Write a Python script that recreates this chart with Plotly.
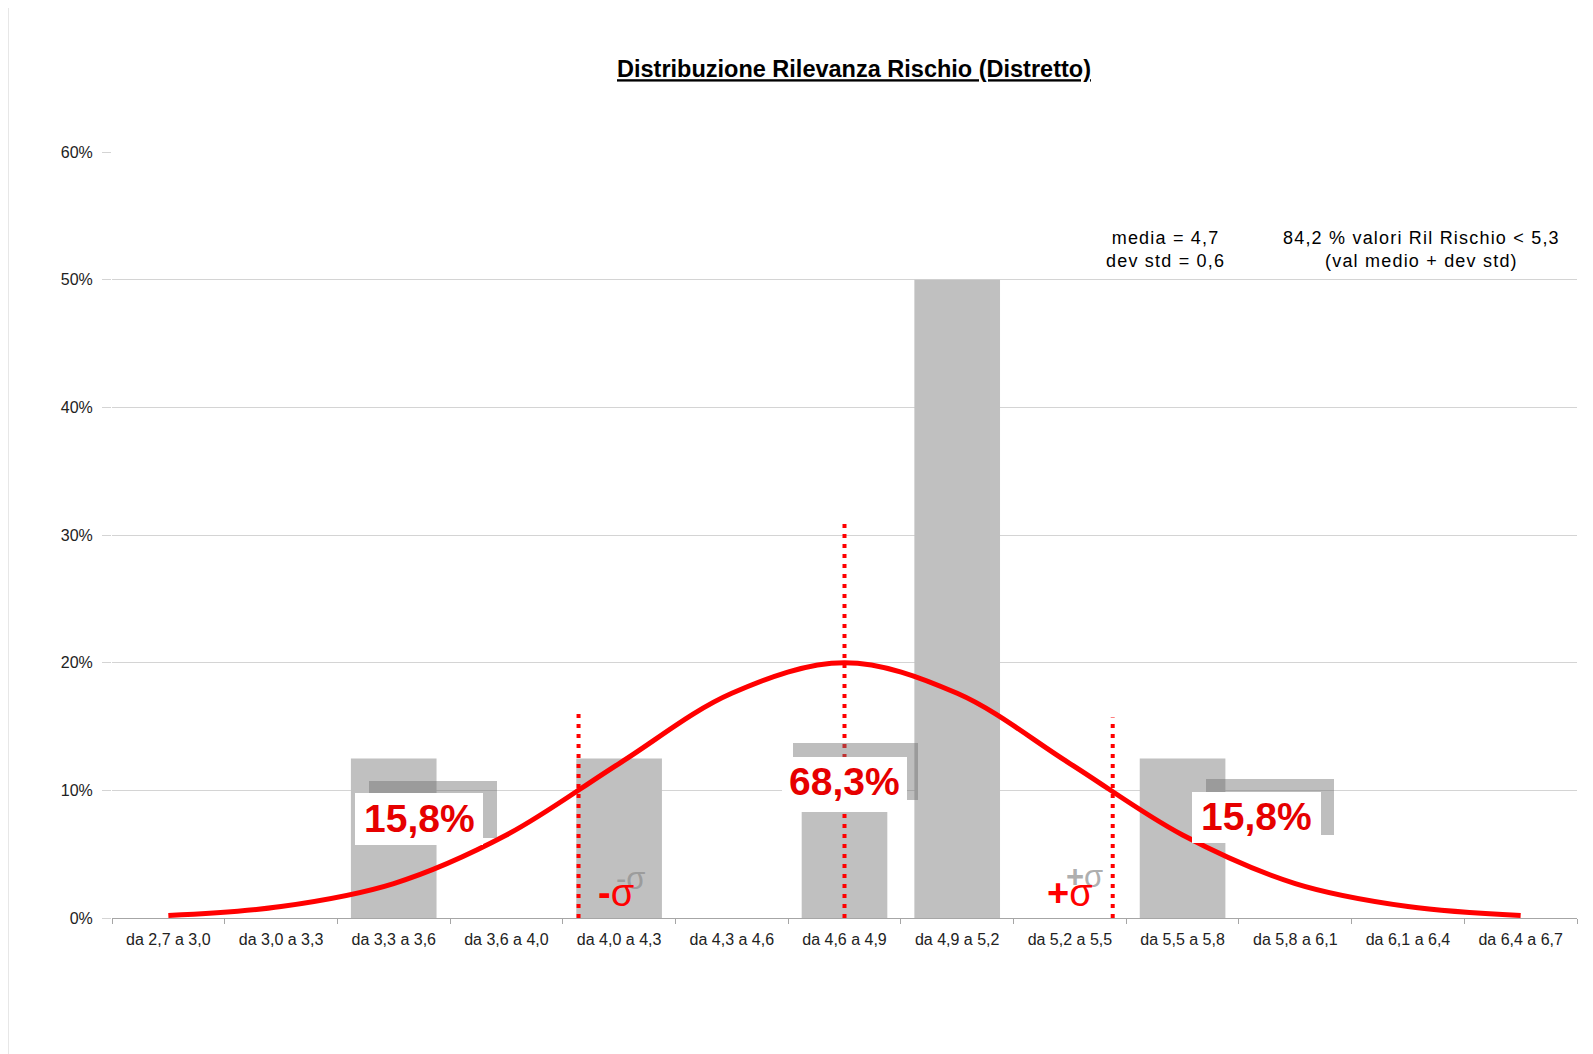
import plotly.graph_objects as go

# ---------------- data ----------------
categories = ["da 2,7 a 3,0", "da 3,0 a 3,3", "da 3,3 a 3,6", "da 3,6 a 4,0",
              "da 4,0 a 4,3", "da 4,3 a 4,6", "da 4,6 a 4,9", "da 4,9 a 5,2",
              "da 5,2 a 5,5", "da 5,5 a 5,8", "da 5,8 a 6,1", "da 6,1 a 6,4",
              "da 6,4 a 6,7"]
freq = [0, 0, 0.125, 0, 0.125, 0, 0.083, 0.50, 0, 0.125, 0, 0, 0]
curve = [0.002, 0.009, 0.027, 0.065, 0.121, 0.176, 0.200, 0.176, 0.121,
         0.065, 0.027, 0.009, 0.002]
y_ticks = [0, 0.1, 0.2, 0.3, 0.4, 0.5, 0.6]
# sigma marker positions (category index scale) and heights
sigma_x = [3.64, 6.0, 8.38]
sigma_top = [0.160, 0.313, 0.157]
pct_labels = ["15,8%", "68,3%", "15,8%"]

# ---------------- layout helpers ----------------
W, H = 1593, 1054
OFF = 8  # page body margin: figure origin sits at (8, 8) in the screenshot
PLX0, PLX1, PLY0, PLY1 = 112, 1577, 152, 918
L, R, T, B = PLX0 - OFF, W - (PLX1 - OFF), PLY0 - OFF, H - (PLY1 - OFF)
PW, PH = PLX1 - PLX0, PLY1 - PLY0
def xp(px): return (px - PLX0) / PW
def yp(py): return (PLY1 - py) / PH

FONT = "Liberation Sans, Arial, sans-serif"
RED = "#ff0000"

fig = go.Figure()
fig.add_trace(go.Bar(x=categories, y=freq, marker=dict(color="#c0c0c0", line=dict(width=0)),
                     hoverinfo="skip", showlegend=False))
fig.add_trace(go.Scatter(x=categories, y=curve, mode="lines",
                         line=dict(color=RED, width=5, shape="spline", smoothing=1),
                         hoverinfo="skip", showlegend=False))

shapes = []
for sx, st in zip(sigma_x, sigma_top):
    shapes.append(dict(type="line", xref="x", yref="y", x0=sx, x1=sx, y0=0, y1=st,
                       line=dict(color=RED, width=4, dash="4px,6px"), layer="above"))
gray_boxes = [(369, 781, 497, 838), (793, 743, 918, 800), (1206, 779, 1334, 835)]
white_boxes = [(355, 793, 483, 845), (782, 757, 907, 808), (1192, 792, 1321, 843)]
for (x0, y0, x1, y1) in gray_boxes:
    shapes.append(dict(type="rect", xref="paper", yref="paper", x0=xp(x0), x1=xp(x1),
                       y0=yp(y1), y1=yp(y0), fillcolor="rgba(110,110,110,0.45)",
                       line=dict(width=0), layer="above"))
for (x0, y0, x1, y1) in white_boxes:
    shapes.append(dict(type="rect", xref="paper", yref="paper", x0=xp(x0), x1=xp(x1),
                       y0=yp(y1), y1=yp(y0), fillcolor="white",
                       line=dict(width=0), layer="above"))
# outer chart border (left edge)
shapes.append(dict(type="line", xref="paper", yref="paper", x0=xp(8), x1=xp(8),
                   y0=yp(H + 20), y1=yp(6), line=dict(color="#d0d0d0", width=1)))

annotations = []
for (x0, y0, x1, y1), txt in zip(white_boxes, pct_labels):
    annotations.append(dict(xref="paper", yref="paper", x=xp((x0 + x1) / 2), y=yp((y0 + y1) / 2 - 1),
                            text="<b>%s</b>" % txt, showarrow=False,
                            font=dict(family=FONT, size=39, color="#e60000"),
                            xanchor="center", yanchor="middle"))
GHOST = "rgba(140,140,140,0.7)"
for px, py, txt, col, sz in [(630, 878, "-σ", GHOST, 31),
                             (616, 893, "<b>-</b>σ", RED, 38),
                             (1084, 876, "<b>+</b>σ", GHOST, 31),
                             (1070, 893, "<b>+</b>σ", RED, 38)]:
    annotations.append(dict(xref="paper", yref="paper", x=xp(px), y=yp(py), text=txt,
                            showarrow=False, font=dict(family=FONT, size=sz, color=col),
                            xanchor="center", yanchor="middle"))
LS = '<span style="letter-spacing:1.2px">%s</span>'
annotations.append(dict(xref="paper", yref="paper", x=xp(1165), y=yp(249),
                        text=LS % "media = 4,7" + "<br>" + LS % "dev std = 0,6",
                        showarrow=False,
                        font=dict(family=FONT, size=18, color="black"),
                        xanchor="center", yanchor="middle", align="center"))
annotations.append(dict(xref="paper", yref="paper", x=xp(1421), y=yp(249),
                        text=LS % "84,2 % valori Ril Rischio < 5,3" + "<br>" + LS % "(val medio + dev std)",
                        showarrow=False, font=dict(family=FONT, size=18, color="black"),
                        xanchor="center", yanchor="middle", align="center"))

fig.update_layout(
    width=W, height=H,
    margin=dict(l=L, r=R, t=T, b=B),
    paper_bgcolor="white", plot_bgcolor="white",
    bargap=0.24,
    title=dict(text='<span style="text-decoration:underline"><b>Distribuzione Rilevanza Rischio (Distretto)</b></span>',
               x=(854 - OFF) / W, xanchor="center",
               y=1 - (69 - OFF) / H, yanchor="middle",
               font=dict(family=FONT, size=23.5, color="black")),
    xaxis=dict(type="category", categoryorder="array", categoryarray=categories,
               range=[-0.5, len(categories) - 0.5],
               showline=True, linecolor="#a6a6a6", linewidth=1,
               ticks="outside", tickson="boundaries", ticklen=5, tickcolor="#a6a6a6",
               ticklabelstandoff=7,
               showgrid=False, tickfont=dict(family=FONT, size=16, color="#222")),
    yaxis=dict(range=[0, 0.6], tickvals=y_ticks, tickformat=".0%",
               showgrid=True, gridcolor="#d4d4d4", gridwidth=1,
               showline=False, ticks="outside", ticklen=9, tickcolor="#d4d4d4",
               ticklabelstandoff=6,
               zeroline=False, tickfont=dict(family=FONT, size=16, color="#222")),
    shapes=shapes, annotations=annotations,
)

fig.write_html("out.html")
